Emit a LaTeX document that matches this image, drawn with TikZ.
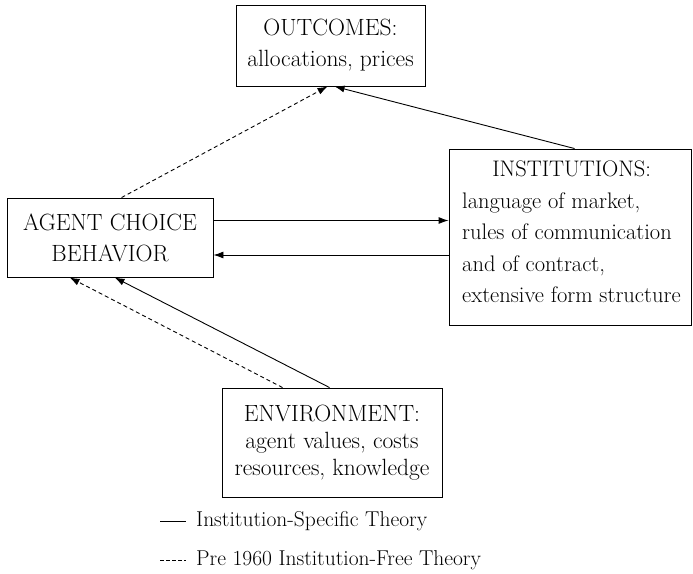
\documentclass[tikz,border=0pt]{standalone}
\usetikzlibrary{calc,arrows.meta}
\begin{document}
\begin{tikzpicture}[x=1pt,y=-1pt,
  box/.style={draw,line width=0.9pt,inner sep=0pt,font=\fontsize{23.5}{31}\selectfont},
  conn/.style={line width=0.9pt,-{Latex[length=10pt,width=7pt]}},
  dconn/.style={conn,dash pattern=on 4pt off 3pt},
  lbl/.style={font=\fontsize{21.5}{24}\selectfont,anchor=west,inner sep=0pt}]
\useasboundingbox (0,0) rectangle (693,573);
\node[box,minimum width=189pt,minimum height=81pt,align=center] (out) at (330.5,45.5)
  {OUTCOMES:\\allocations, prices};
\node[box,minimum width=206pt,minimum height=79pt,align=center] (agent) at (110,237.5)
  {AGENT CHOICE\\BEHAVIOR};
\node[box,minimum width=242pt,minimum height=176pt] (inst) at (570,237) {};
\node[font=\fontsize{22.5}{31.5}\selectfont,align=left,anchor=north west,inner sep=0pt] (insttext) at (462,161)
  {\makebox[219pt]{INSTITUTIONS:}\\language of market,\\rules of communication\\and of contract,\\extensive form structure};
\node[box,minimum width=220pt,minimum height=109pt,align=center,font=\fontsize{23.5}{27}\selectfont] (env) at (332,442.5)
  {ENVIRONMENT:\\agent values, costs\\resources, knowledge};
% connectors
\draw[dconn] ($(agent.north west)+(115,0)$) -- ($(out.south west)+(92,0)$);
\draw[conn] ($(inst.north west)+(126,0)$) -- ($(out.south west)+(99,0)$);
\draw[conn] ([yshift=17pt]agent.east) -- ([yshift=17pt]agent.east -| inst.west);
\draw[conn] ([yshift=-17.5pt]agent.east -| inst.west) -- ([yshift=-17.5pt]agent.east);
\draw[dconn] ($(env.north west)+(61,0)$) -- ($(agent.south west)+(63,0)$);
\draw[conn] ($(env.north west)+(108,0)$) -- ($(agent.south west)+(108,0)$);
% legend
\coordinate (l1a) at (160,521); \coordinate (l1b) at (186,521);
\coordinate (l2a) at (160,560); \coordinate (l2b) at (186,560);
\draw[line width=0.8pt] (l1a) -- (l1b);
\draw[line width=0.8pt,dash pattern=on 4pt off 2pt] (l2a) -- (l2b);
\node[lbl] (t1) at (196,521) {Institution-Specific Theory};
\node[lbl] (t2) at (196,560) {Pre 1960 Institution-Free Theory};
\end{tikzpicture}
\end{document}
